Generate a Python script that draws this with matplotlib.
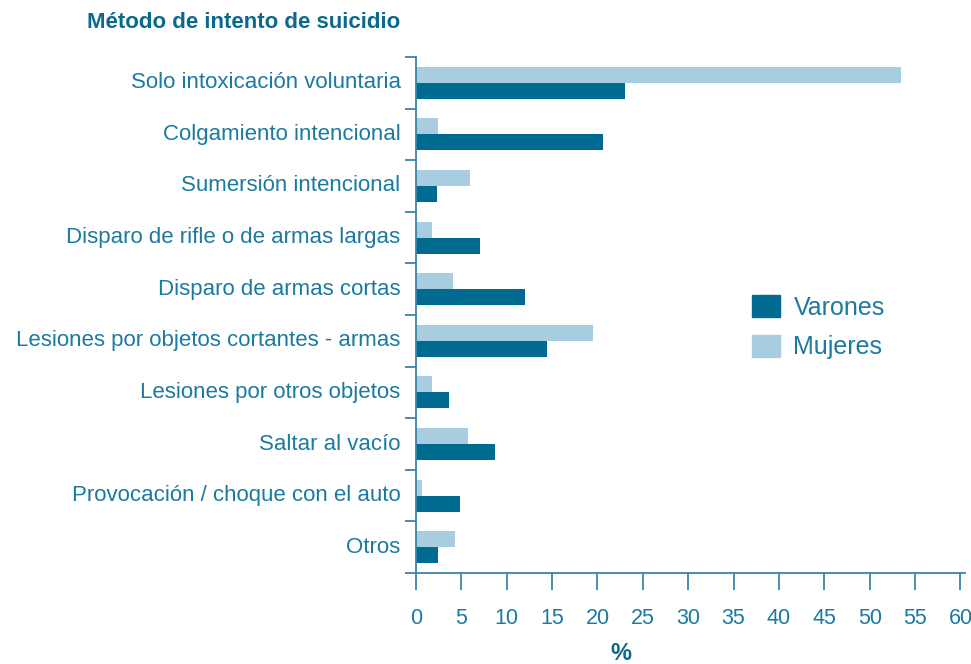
import numpy as np
import matplotlib
matplotlib.use("Agg")
import matplotlib.pyplot as plt
from matplotlib.patches import Patch

# datos
categorias = [
    "Solo intoxicación voluntaria",
    "Colgamiento intencional",
    "Sumersión intencional",
    "Disparo de rifle o de armas largas",
    "Disparo de armas cortas",
    "Lesiones por objetos cortantes - armas",
    "Lesiones por otros objetos",
    "Saltar al vacío",
    "Provocación / choque con el auto",
    "Otros",
]
varones = [23.0, 20.6, 2.3, 7.1, 12.0, 14.4, 3.6, 8.7, 4.9, 2.4]
mujeres = [53.5, 2.4, 6.0, 1.8, 4.1, 19.5, 1.8, 5.7, 0.7, 4.3]
xticks = [0, 5, 10, 15, 20, 25, 30, 35, 40, 45, 50, 55, 60]

# colores
c_var = "#006a90"
c_muj = "#a9cde0"
c_txt = "#1b7aa0"
c_eje = "#3a84a6"

plt.rcParams["font.family"] = ["Liberation Sans", "DejaVu Sans"]

fig = plt.figure(figsize=(9.71, 6.64), dpi=100)
ax = fig.add_axes([0.4284, 0.137, 0.5654, 0.7772])

y = np.arange(len(categorias))
h = 0.31
ax.barh(y - h / 2, mujeres, height=h, color=c_muj, label="Mujeres")
ax.barh(y + h / 2, varones, height=h, color=c_var, label="Varones")

ax.set_xlim(0, 60.5)
ax.set_ylim(len(categorias) - 0.5, -0.5)

# ejes
for s in ["top", "right"]:
    ax.spines[s].set_visible(False)
for s in ["left", "bottom"]:
    ax.spines[s].set_color(c_eje)
    ax.spines[s].set_linewidth(1.3)

ax.set_xticks(xticks)
ax.set_xticklabels([str(t) for t in xticks])
ax.tick_params(axis="x", direction="out", length=12, width=1.3, color=c_eje,
               pad=13, labelsize=15.5, labelcolor=c_txt)

# ticks del eje y en los limites entre categorias
ax.set_yticks(np.arange(-0.5, len(categorias), 1.0))
ax.set_yticklabels([])
ax.tick_params(axis="y", direction="out", length=8, width=1.3, color=c_eje)
for i, cat in enumerate(categorias):
    ax.text(-0.028, i, cat, transform=ax.get_yaxis_transform(), ha="right",
            va="center", fontsize=16, color=c_txt)

# titulo y etiqueta
fig.text(400 / 971, 1 - 22 / 664, "Método de intento de suicidio", ha="right",
         va="center", fontsize=16, fontweight="bold", color="#0a6a8e")
fig.text(621 / 971, 1 - 653 / 664, "%", ha="center", va="center",
         fontsize=17, fontweight="bold", color="#0a6a8e")

# leyenda
handles = [Patch(color=c_var, label="Varones"), Patch(color=c_muj, label="Mujeres")]
leg = ax.legend(handles=handles, loc="center left", bbox_to_anchor=(0.571, 0.476),
                frameon=False, fontsize=18, handlelength=1.13, handleheight=0.96,
                handletextpad=0.53, labelspacing=0.6)
for t in leg.get_texts():
    t.set_color(c_txt)

fig.savefig("out.png", dpi=100)
